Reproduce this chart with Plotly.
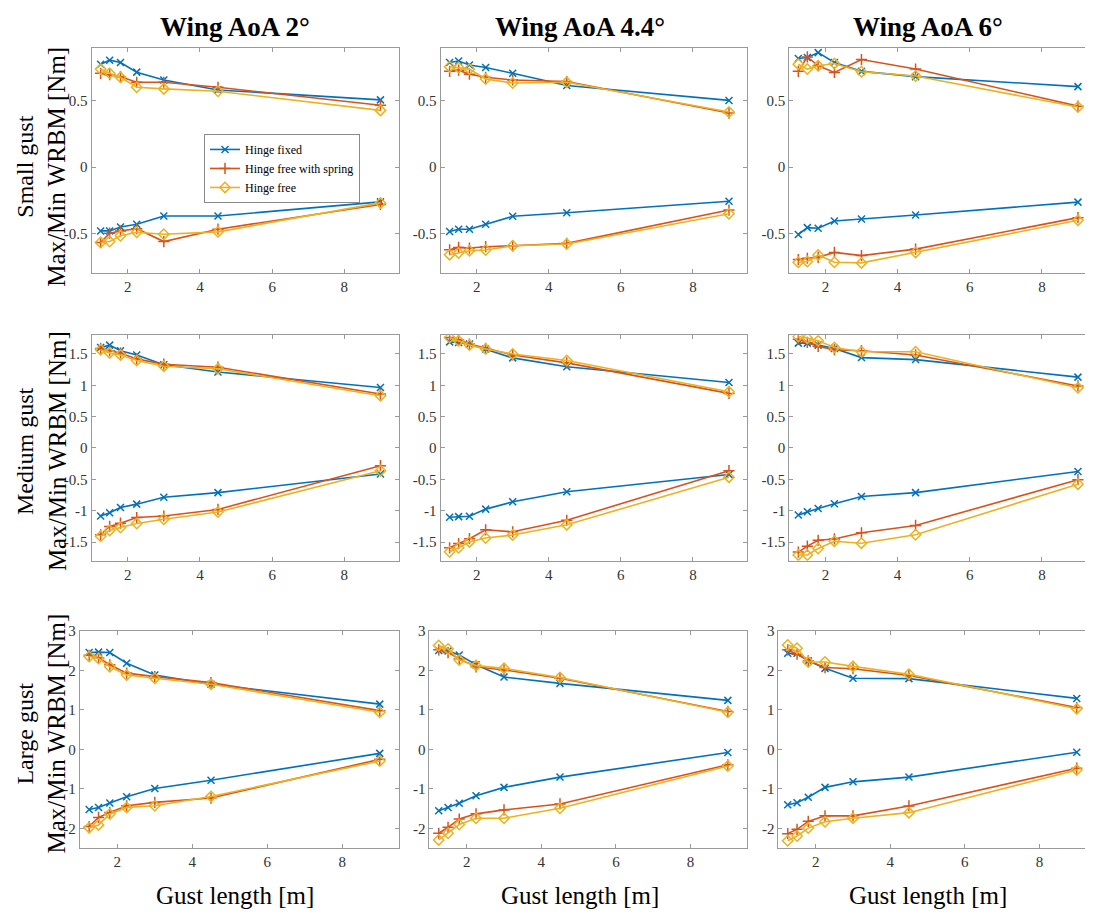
import plotly.graph_objects as go

# ---------------- data ----------------
gust_length = [1.25, 1.5, 1.8, 2.25, 3, 4.5, 9]
col_titles = ["Wing AoA 2°", "Wing AoA 4.4°", "Wing AoA 6°"]
row_names = ["Small gust", "Medium gust", "Large gust"]
series_names = ["Hinge fixed", "Hinge free with spring", "Hinge free"]

# Small gust
small_aoa2_fixed_max = [0.776, 0.806, 0.789, 0.716, 0.657, 0.582, 0.507]
small_aoa2_fixed_min = [-0.48, -0.48, -0.45, -0.43, -0.368, -0.368, -0.261]
small_aoa2_spring_max = [0.707, 0.697, 0.682, 0.64, 0.64, 0.602, 0.466]
small_aoa2_spring_min = [-0.567, -0.497, -0.48, -0.463, -0.56, -0.467, -0.281]
small_aoa2_free_max = [0.739, 0.707, 0.677, 0.602, 0.59, 0.572, 0.428]
small_aoa2_free_min = [-0.567, -0.56, -0.517, -0.49, -0.505, -0.487, -0.269]

small_aoa44_fixed_max = [0.789, 0.80, 0.77, 0.751, 0.707, 0.615, 0.503]
small_aoa44_fixed_min = [-0.485, -0.467, -0.467, -0.43, -0.37, -0.343, -0.256]
small_aoa44_spring_max = [0.722, 0.731, 0.701, 0.677, 0.657, 0.645, 0.408]
small_aoa44_spring_min = [-0.622, -0.604, -0.609, -0.599, -0.592, -0.574, -0.323]
small_aoa44_free_max = [0.757, 0.751, 0.739, 0.664, 0.634, 0.64, 0.416]
small_aoa44_free_min = [-0.659, -0.646, -0.629, -0.624, -0.592, -0.579, -0.351]

small_aoa6_fixed_max = [0.819, 0.826, 0.863, 0.789, 0.722, 0.682, 0.607]
small_aoa6_fixed_min = [-0.507, -0.455, -0.46, -0.405, -0.39, -0.36, -0.263]
small_aoa6_spring_max = [0.722, 0.831, 0.764, 0.714, 0.811, 0.739, 0.46]
small_aoa6_spring_min = [-0.696, -0.686, -0.679, -0.642, -0.666, -0.617, -0.38]
small_aoa6_free_max = [0.776, 0.739, 0.764, 0.781, 0.719, 0.687, 0.453]
small_aoa6_free_min = [-0.716, -0.711, -0.661, -0.716, -0.721, -0.642, -0.40]

# Medium gust
medium_aoa2_fixed_max = [1.604, 1.641, 1.552, 1.484, 1.327, 1.211, 0.965]
medium_aoa2_fixed_min = [-1.085, -1.032, -0.948, -0.896, -0.786, -0.712, -0.414]
medium_aoa2_spring_max = [1.588, 1.552, 1.516, 1.421, 1.337, 1.289, 0.86]
medium_aoa2_spring_min = [-1.384, -1.252, -1.2, -1.11, -1.085, -0.98, -0.283]
medium_aoa2_free_max = [1.568, 1.516, 1.484, 1.395, 1.305, 1.264, 0.833]
medium_aoa2_free_min = [-1.409, -1.315, -1.268, -1.205, -1.137, -1.022, -0.362]

medium_aoa44_fixed_max = [1.693, 1.683, 1.657, 1.579, 1.437, 1.295, 1.044]
medium_aoa44_fixed_min = [-1.105, -1.095, -1.09, -0.975, -0.859, -0.697, -0.424]
medium_aoa44_spring_max = [1.761, 1.725, 1.657, 1.588, 1.484, 1.358, 0.871]
medium_aoa44_spring_min = [-1.593, -1.525, -1.447, -1.305, -1.337, -1.153, -0.362]
medium_aoa44_free_max = [1.761, 1.709, 1.641, 1.579, 1.5, 1.395, 0.896]
medium_aoa44_free_min = [-1.656, -1.593, -1.499, -1.436, -1.389, -1.226, -0.466]

medium_aoa6_fixed_max = [1.673, 1.673, 1.641, 1.588, 1.442, 1.41, 1.13]
medium_aoa6_fixed_min = [-1.069, -1.016, -0.964, -0.89, -0.775, -0.712, -0.375]
medium_aoa6_spring_max = [1.736, 1.683, 1.62, 1.568, 1.552, 1.484, 0.99]
medium_aoa6_spring_min = [-1.661, -1.566, -1.472, -1.451, -1.352, -1.236, -0.506]
medium_aoa6_free_max = [1.777, 1.752, 1.709, 1.604, 1.536, 1.536, 0.96]
medium_aoa6_free_min = [-1.708, -1.708, -1.604, -1.488, -1.519, -1.384, -0.577]

# Large gust
large_aoa2_fixed_max = [2.45, 2.46, 2.45, 2.18, 1.88, 1.65, 1.146]
large_aoa2_fixed_min = [-1.52, -1.467, -1.357, -1.199, -0.99, -0.779, -0.10]
large_aoa2_spring_max = [2.38, 2.32, 2.14, 1.93, 1.84, 1.69, 0.98]
large_aoa2_spring_min = [-1.95, -1.72, -1.593, -1.425, -1.34, -1.23, -0.25]
large_aoa2_free_max = [2.35, 2.30, 2.09, 1.88, 1.80, 1.65, 0.94]
large_aoa2_free_min = [-1.98, -1.91, -1.633, -1.467, -1.425, -1.19, -0.294]

large_aoa44_fixed_max = [2.50, 2.49, 2.39, 2.14, 1.83, 1.67, 1.24]
large_aoa44_fixed_min = [-1.55, -1.47, -1.36, -1.17, -0.96, -0.70, -0.08]
large_aoa44_spring_max = [2.52, 2.45, 2.29, 2.09, 2.01, 1.80, 0.96]
large_aoa44_spring_min = [-2.12, -1.97, -1.76, -1.63, -1.53, -1.38, -0.39]
large_aoa44_free_max = [2.63, 2.54, 2.26, 2.12, 2.05, 1.82, 0.94]
large_aoa44_free_min = [-2.29, -2.12, -1.90, -1.74, -1.74, -1.49, -0.42]

large_aoa6_fixed_max = [2.43, 2.43, 2.24, 2.05, 1.80, 1.79, 1.29]
large_aoa6_fixed_min = [-1.40, -1.35, -1.21, -0.96, -0.82, -0.70, -0.07]
large_aoa6_spring_max = [2.52, 2.41, 2.24, 2.07, 2.04, 1.87, 1.06]
large_aoa6_spring_min = [-2.13, -2.02, -1.82, -1.68, -1.68, -1.43, -0.475]
large_aoa6_free_max = [2.64, 2.56, 2.21, 2.21, 2.10, 1.90, 1.03]
large_aoa6_free_min = [-2.31, -2.19, -1.99, -1.83, -1.74, -1.60, -0.52]

x_tick_vals = [2, 4, 6, 8]
row_ytick_vals = [[-0.5, 0, 0.5], [-1.5, -1, -0.5, 0, 0.5, 1, 1.5], [-2, -1, 0, 1, 2, 3]]
row_ytick_text = [["-0.5", "0", "0.5"],
                  ["-1.5", "-1", "-0.5", "0", "0.5", "1", "1.5"],
                  ["-2", "-1", "0", "1", "2", "3"]]
row_yranges = [[-0.8, 0.9], [-1.8, 1.8], [-2.5, 3]]

grid = [
    [(small_aoa2_fixed_max, small_aoa2_fixed_min, small_aoa2_spring_max, small_aoa2_spring_min, small_aoa2_free_max, small_aoa2_free_min),
     (small_aoa44_fixed_max, small_aoa44_fixed_min, small_aoa44_spring_max, small_aoa44_spring_min, small_aoa44_free_max, small_aoa44_free_min),
     (small_aoa6_fixed_max, small_aoa6_fixed_min, small_aoa6_spring_max, small_aoa6_spring_min, small_aoa6_free_max, small_aoa6_free_min)],
    [(medium_aoa2_fixed_max, medium_aoa2_fixed_min, medium_aoa2_spring_max, medium_aoa2_spring_min, medium_aoa2_free_max, medium_aoa2_free_min),
     (medium_aoa44_fixed_max, medium_aoa44_fixed_min, medium_aoa44_spring_max, medium_aoa44_spring_min, medium_aoa44_free_max, medium_aoa44_free_min),
     (medium_aoa6_fixed_max, medium_aoa6_fixed_min, medium_aoa6_spring_max, medium_aoa6_spring_min, medium_aoa6_free_max, medium_aoa6_free_min)],
    [(large_aoa2_fixed_max, large_aoa2_fixed_min, large_aoa2_spring_max, large_aoa2_spring_min, large_aoa2_free_max, large_aoa2_free_min),
     (large_aoa44_fixed_max, large_aoa44_fixed_min, large_aoa44_spring_max, large_aoa44_spring_min, large_aoa44_free_max, large_aoa44_free_min),
     (large_aoa6_fixed_max, large_aoa6_fixed_min, large_aoa6_spring_max, large_aoa6_spring_min, large_aoa6_free_max, large_aoa6_free_min)],
]

# ---------------- styling / layout ----------------
# the page body has an 8px margin: figure is sized to fit the window exactly
OFF = 8
W, H = 1093 - 2 * OFF, 918 - 2 * OFF
FONT = "Liberation Serif"
colors = ["#0072BD", "#D95319", "#EDB120"]
symbols = ["x-thin-open", "cross-thin-open", "diamond-open"]
msizes = [7, 8, 8]
AX_COLOR = "#9a9a9a"
TICK_FONT_COLOR = "#333333"


def px_x(p):
    return (p - OFF) / W


def px_y(p):
    return 1 - (p - OFF) / H


# page-pixel boxes of each axes (rows 1-2 and row 3 differ slightly)
x_px_rows12 = [(91.6, 398.5), (440.6, 747.0), (789.3, 1085.0)]
x_px_row3 = [(79.8, 398.5), (429.4, 746.5), (778.4, 1085.0)]
x_max_rows12 = [9.5, 9.5, 9.195]
x_max_row3 = [9.5, 9.5, 9.221]
y_px = [(40.0, 267.7), (330.0, 557.7), (628.3, 847.7)]

fig = go.Figure()
layout_axes = {}

for r in range(3):
    for c in range(3):
        idx = r * 3 + c + 1
        xa = "xaxis" if idx == 1 else f"xaxis{idx}"
        ya = "yaxis" if idx == 1 else f"yaxis{idx}"
        xref = "x" if idx == 1 else f"x{idx}"
        yref = "y" if idx == 1 else f"y{idx}"
        xpx = x_px_row3[c] if r == 2 else x_px_rows12[c]
        xmax = x_max_row3[c] if r == 2 else x_max_rows12[c]
        ypx = y_px[r]
        common = dict(showline=True, linecolor=AX_COLOR, linewidth=1,
                      ticks="inside", ticklen=4, tickcolor=AX_COLOR, tickwidth=1,
                      showgrid=False, zeroline=False,
                      tickfont=dict(family=FONT, size=15, color=TICK_FONT_COLOR))
        layout_axes[xa] = dict(domain=[px_x(xpx[0]), min(1.0, px_x(xpx[1]))], range=[1, xmax],
                               anchor=yref, tickvals=x_tick_vals, mirror="ticks",
                               ticktext=[str(v) for v in x_tick_vals], **common)
        # right border of the last column lies outside the picture in the reference
        layout_axes[ya] = dict(domain=[px_y(ypx[1]), px_y(ypx[0])], range=row_yranges[r],
                               anchor=xref, tickvals=row_ytick_vals[r],
                               mirror=(False if c == 2 else "ticks"),
                               ticktext=row_ytick_text[r], **common)
        data = grid[r][c]
        for s in range(3):
            for k, yv in enumerate((data[2 * s], data[2 * s + 1])):
                fig.add_trace(go.Scatter(
                    x=gust_length, y=yv, mode="lines+markers",
                    name=series_names[s], legendgroup=series_names[s],
                    showlegend=(idx == 1 and k == 0),
                    line=dict(color=colors[s], width=1.6),
                    marker=dict(symbol=symbols[s], size=msizes[s],
                                color=colors[s], line=dict(color=colors[s], width=1.5)),
                    xaxis=xref, yaxis=yref))

annotations = []
title_cx = [235, 580, 928]
for c in range(3):
    annotations.append(dict(text=f"<b>{col_titles[c]}</b>", x=px_x(title_cx[c]), y=px_y(19),
                            xref="paper", yref="paper", showarrow=False,
                            xanchor="center", yanchor="middle",
                            font=dict(family=FONT, size=27, color="#000000")))
    annotations.append(dict(text="Gust length [m]", x=px_x(title_cx[c]), y=px_y(895),
                            xref="paper", yref="paper", showarrow=False,
                            xanchor="center", yanchor="middle",
                            font=dict(family=FONT, size=25, color="#000000")))
row_cy = [160, 447, 732]
for r in range(3):
    annotations.append(dict(text=row_names[r], x=px_x(25), y=px_y(row_cy[r]),
                            xref="paper", yref="paper", showarrow=False, textangle=-90,
                            xanchor="center", yanchor="middle",
                            font=dict(family=FONT, size=24, color="#000000")))
    annotations.append(dict(text="Max/Min WRBM [Nm]", x=px_x(57), y=px_y(row_cy[r]),
                            xref="paper", yref="paper", showarrow=False, textangle=-90,
                            xanchor="center", yanchor="middle",
                            font=dict(family=FONT, size=25, color="#000000")))

fig.update_layout(
    width=W, height=H,
    margin=dict(l=0, r=0, t=0, b=0),
    paper_bgcolor="white", plot_bgcolor="white",
    showlegend=True,
    legend=dict(x=px_x(204), y=px_y(127), xanchor="left", yanchor="top",
                bgcolor="white", bordercolor="#8a8a8a", borderwidth=1,
                font=dict(family=FONT, size=12, color="#000000"),
                itemwidth=30, tracegroupgap=0),
    annotations=annotations,
    **layout_axes,
)

fig.write_html("out.html")
